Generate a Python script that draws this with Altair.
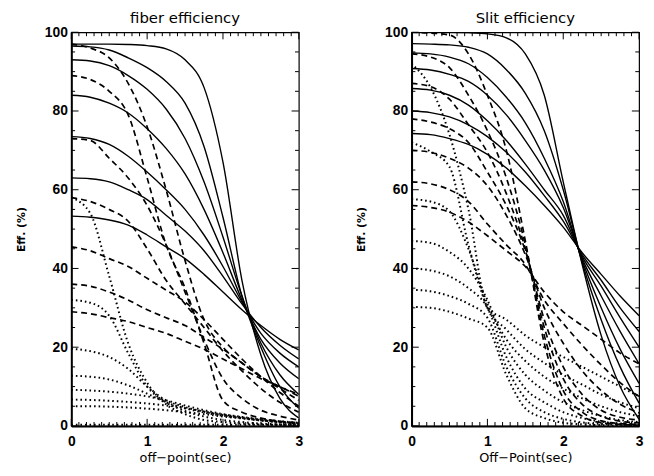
import altair as alt
import pandas as pd

# grid of off-point values (sec) at which the curves were read
X = [0, 0.25, 0.5, 0.75, 1.0, 1.25, 1.5, 1.75, 2.0, 2.25, 2.5, 2.75, 3.0]

XTICKS = [0, 1, 2, 3]
YTICKS = [0, 20, 40, 60, 80, 100]

# ---- fiber efficiency (%) ----
FIBER_SOLID = [
    [97, 97, 97, 96.9, 96.6, 95.8, 93, 86, 67, 37, 18, 7, 2],
    [96.5, 96.3, 95.5, 93.5, 91, 87.5, 82, 71, 53, 33, 20, 10, 4.5],
    [93, 92.7, 91.5, 89, 85.5, 80.5, 73, 62, 48, 33, 21, 13, 8],
    [84, 83.5, 82, 79.5, 75.5, 70.5, 64, 55, 44, 32, 22, 16, 12],
    [73.5, 73, 71.5, 68.5, 64.5, 60, 55, 48.5, 40.5, 31.5, 23.5, 18.5, 15],
    [63, 62.8, 62, 60, 57.5, 53.5, 49.5, 44.5, 38, 31, 25, 20.5, 17],
    [53.3, 53, 52.3, 51, 48.5, 45.5, 42.5, 38.5, 34, 29.5, 25.5, 22, 19.3],
]
FIBER_DASHED = [
    [97, 96, 93.5, 87, 76, 60, 42, 27, 20, 16, 12.5, 10, 8],
    [89, 88, 85, 79, 63, 46, 35, 21, 6.5, 3.5, 2, 1.2, 0.8],
    [73, 72.5, 68, 63, 56, 46, 34, 22, 12, 7, 4, 2.5, 1.5],
    [58, 57, 55, 52, 45, 37, 31, 25, 19, 14, 9.5, 6, 3.5],
    [45.5, 44.5, 42.5, 40.5, 37.5, 34.5, 31.5, 27, 22, 17, 12.5, 8.5, 5],
    [36, 35.5, 34, 32, 29.5, 27.5, 25.5, 22.5, 19.5, 16, 12.5, 9.5, 6.5],
    [29, 28.5, 27.5, 26.5, 25, 23.5, 21.5, 19.5, 17, 14.5, 12, 10, 7.5],
]
FIBER_DOTTED = [
    [58, 54, 38, 21, 11, 5.5, 3, 1.5, 1, 0.6, 0.4, 0.2, 0.1],
    [32, 31.3, 28, 18.5, 10, 6, 3.8, 2.4, 1.5, 1, 0.6, 0.4, 0.2],
    [19.6, 19, 17.5, 14.5, 10, 6.5, 4.8, 3.6, 2.7, 2, 1.4, 0.9, 0.5],
    [12.75, 12.5, 11.8, 10.3, 8.2, 6, 4.5, 3.4, 2.6, 2, 1.4, 1, 0.6],
    [9.2, 9, 8.7, 8.2, 7.5, 6.5, 5.2, 4, 3, 2.3, 1.7, 1.2, 0.8],
    [6.7, 6.6, 6.4, 6.1, 5.7, 5.2, 4.5, 3.7, 2.9, 2.2, 1.6, 1.1, 0.7],
    [5, 5, 4.9, 4.7, 4.4, 4, 3.5, 3, 2.4, 1.9, 1.4, 1, 0.6],
    [0.3, 0.3, 0.3, 0.3, 0.3, 0.3, 0.3, 0.3, 0.3, 0.3, 0.3, 0.3, 0.3],
]

# ---- slit efficiency (%) ----
SLIT_SOLID = [
    [100, 100, 100, 99.9, 99.6, 98.6, 94.5, 84, 62, 41, 23, 10, 1.7],
    [97.1, 97, 96.8, 96.2, 94.5, 90.5, 84.5, 75, 60, 41.5, 27, 15, 5.8],
    [94.75, 94.5, 93.7, 92, 88.5, 83.5, 77, 68, 57, 42, 30, 19.5, 10.8],
    [90.8, 90.4, 89.3, 87.5, 84, 79, 72.5, 65, 55.5, 42.5, 33, 24, 15.8],
    [85.7, 85.3, 84, 81.5, 77.5, 72.5, 66.5, 60, 53.5, 43, 35.5, 27.5, 20],
    [80, 79.6, 78.5, 76.5, 73.5, 69.5, 64.5, 58.5, 52, 43.5, 37, 30, 24],
    [74.3, 74, 73, 71.5, 69, 65.5, 61, 56, 50.5, 44, 38.5, 33, 28],
]
SLIT_DASHED = [
    [100, 99.8, 99.3, 94.5, 84, 70, 47, 21, 7, 2.5, 0.8, 0.4, 0.2],
    [94.5, 93.7, 91, 84, 75, 63, 46, 23, 9, 3.5, 1.3, 0.6, 0.4],
    [87, 86.2, 83, 76.5, 69.5, 59, 45, 25, 12, 5.5, 2.5, 1.2, 0.8],
    [78, 77.2, 75.5, 72, 64.5, 56, 44.5, 27, 15, 8, 4, 2.2, 1.5],
    [70, 69.5, 68, 65.5, 61, 53.5, 43.5, 30, 21, 14, 9, 5.5, 3.3],
    [62, 61.5, 60, 57, 51.3, 46, 41, 32, 26, 20.5, 15.5, 11, 7.5],
    [56, 55.5, 54.3, 51.8, 48.3, 44.5, 40.5, 34, 29, 25.5, 22, 18.5, 15.8],
]
SLIT_DOTTED = [
    [92, 86, 74, 55, 30, 27, 23, 20, 17.5, 15, 12.5, 10, 7.5],
    [72, 69.7, 65.8, 46, 30, 24.5, 19.5, 16, 13, 10.5, 8, 6, 4.5],
    [57.6, 57, 54.5, 45, 31, 22, 16.5, 12.5, 9.5, 7, 5, 3.5, 2.5],
    [47, 46.5, 44.2, 40, 32, 20, 13, 9, 6, 4, 2.5, 1.5, 1],
    [40, 39.5, 38, 35, 30, 17.5, 9.5, 6, 3.5, 2, 1.1, 0.6, 0.4],
    [34.6, 34.2, 33, 31, 27.5, 15, 7, 3.5, 1.8, 0.9, 0.5, 0.3, 0.2],
    [30.25, 30, 29, 27.3, 25, 13, 4.5, 2, 0.8, 0.4, 0.2, 0.1, 0.1],
]

# minor tick positions of the IDL-style frame
XMINOR = [round(0.1 * k, 1) for k in range(31) if k % 10]
YMINOR = [v for v in range(0, 101, 5) if v % 20]

LABEL_FONT = "Liberation Sans"
TEXT_FONT = "DejaVu Sans"


def tick_table():
    rows = []
    for t in XTICKS:
        rows.append({"x": t, "x2": t, "v": 0, "v2": 1.8})
        rows.append({"x": t, "x2": t, "v": 100, "v2": 98.2})
    for t in XMINOR:
        rows.append({"x": t, "x2": t, "v": 0, "v2": 1.0})
        rows.append({"x": t, "x2": t, "v": 100, "v2": 99.0})
    for t in YTICKS:
        rows.append({"x": 0, "x2": 0.095, "v": t, "v2": t})
        rows.append({"x": 3, "x2": 2.905, "v": t, "v2": t})
    for t in YMINOR:
        rows.append({"x": 0, "x2": 0.05, "v": t, "v2": t})
        rows.append({"x": 3, "x2": 2.95, "v": t, "v2": t})
    return pd.DataFrame(rows)


def panel(solid, dashed, dotted, title, xtitle):
    rows = []
    for style, group in (("solid", solid), ("dashed", dashed), ("dotted", dotted)):
        for i, vals in enumerate(group):
            for xv, yv in zip(X, vals):
                rows.append({"style": style, "curve": f"{style}{i}", "x": xv, "v": yv})
    df = pd.DataFrame(rows)

    xs = alt.Scale(domain=[0, 3], nice=False, zero=False)
    ys = alt.Scale(domain=[0, 100], nice=False)
    xax = alt.Axis(values=XTICKS, format="d", title=xtitle, grid=False, ticks=False,
                   tickSize=0, labelPadding=9, labelFont=LABEL_FONT, labelFontSize=14,
                   labelFontWeight="bold", labelColor="black", titleFont=TEXT_FONT,
                   titleFontSize=13, titleFontWeight="normal", titleColor="black",
                   titlePadding=3, domainColor="black", domainWidth=2, labelFlush=False)
    yax = alt.Axis(values=YTICKS, format="d", title="Eff. (%)", grid=False, ticks=False,
                   tickSize=0, labelPadding=4, labelFont=LABEL_FONT, labelFontSize=14,
                   labelFontWeight="bold", labelColor="black", titleFont=TEXT_FONT,
                   titleFontSize=11, titleFontWeight="bold", titleColor="black",
                   titlePadding=18, domainColor="black", domainWidth=2, labelFlush=False)

    base = alt.Chart(df)
    layers = []
    styles = [
        ("solid", {"strokeWidth": 1.4}),
        ("dashed", {"strokeWidth": 1.7, "strokeDash": [6, 4]}),
        ("dotted", {"strokeWidth": 2.0, "strokeDash": [1.6, 3]}),
    ]
    for style, kw in styles:
        layers.append(
            base.transform_filter(alt.datum.style == style)
            .mark_line(interpolate="monotone", color="black", clip=True, **kw)
            .encode(
                x=alt.X("x:Q", scale=xs, axis=xax),
                y=alt.Y("v:Q", scale=ys, axis=yax),
                detail="curve:N",
            )
        )
    ticks = alt.Chart(tick_table()).mark_rule(color="black", strokeWidth=1).encode(
        x=alt.X("x:Q", scale=xs, axis=xax),
        x2="x2:Q",
        y=alt.Y("v:Q", scale=ys, axis=yax),
        y2="v2:Q",
    )
    return alt.layer(*layers, ticks).properties(
        width=230,
        height=398,
        title=alt.TitleParams(title, font=TEXT_FONT, fontSize=15, fontWeight="normal",
                              color="black", anchor="middle", offset=-1),
    )


left = panel(FIBER_SOLID, FIBER_DASHED, FIBER_DOTTED, "fiber efficiency", "off\u2212point(sec)")
right = panel(SLIT_SOLID, SLIT_DASHED, SLIT_DOTTED, "Slit efficiency", "Off\u2212Point(sec)")

chart = (
    alt.hconcat(left, right, spacing=52)
    .configure(padding={"left": 7, "top": 0, "right": 2, "bottom": 0}, background="white")
    .configure_view(stroke="black", strokeWidth=1.2)
)

chart.save("out.html", embed_options={"renderer": "svg", "actions": False})
